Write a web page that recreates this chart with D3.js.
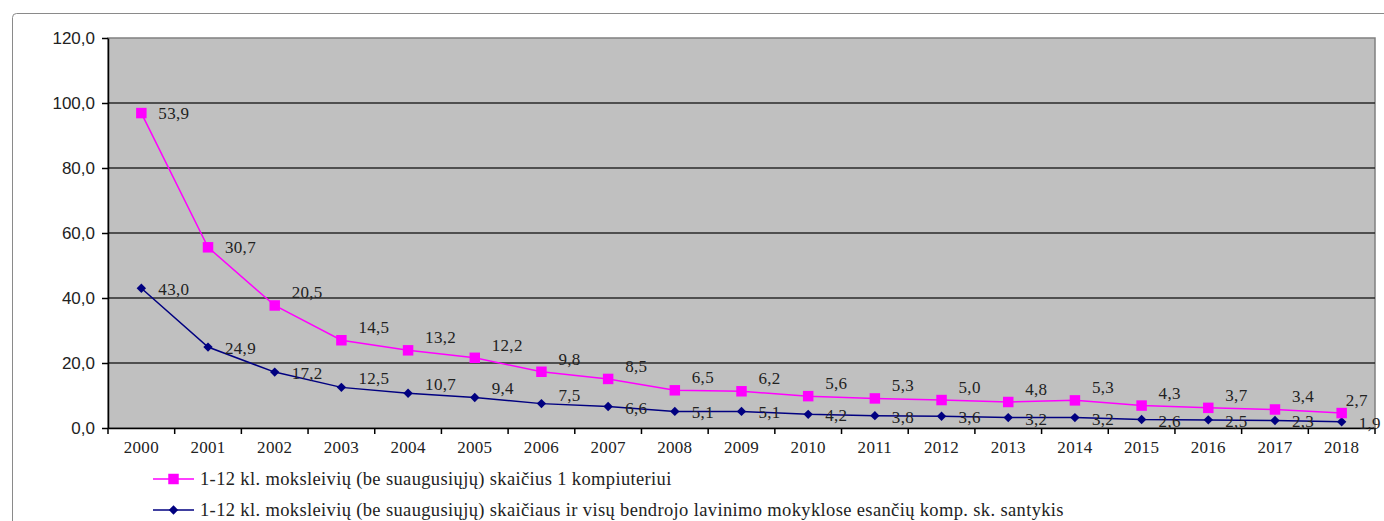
<!DOCTYPE html>
<html>
<head>
<meta charset="utf-8">
<script src="https://cdn.jsdelivr.net/npm/d3@7"></script>
<style>
html, body { margin: 0; padding: 0; background: #fff; overflow: hidden; }
</style>
</head>
<body>
<script>
// data
const years = [2000, 2001, 2002, 2003, 2004, 2005, 2006, 2007, 2008, 2009,
               2010, 2011, 2012, 2013, 2014, 2015, 2016, 2017, 2018];
const perComputer = [53.9, 30.7, 20.5, 14.5, 13.2, 12.2, 9.8, 8.5, 6.5, 6.2,
                     5.6, 5.3, 5.0, 4.8, 5.3, 4.3, 3.7, 3.4, 2.7];
const studentRatio = [43.0, 24.9, 17.2, 12.5, 10.7, 9.4, 7.5, 6.6, 5.1, 5.1,
                      4.2, 3.8, 3.6, 3.2, 3.2, 2.6, 2.5, 2.3, 1.9];
const yTicks = [0, 20, 40, 60, 80, 100, 120];
const legendLabels = [
    "1-12 kl. moksleivių (be suaugusiųjų) skaičius 1 kompiuteriui",
    "1-12 kl. moksleivių (be suaugusiųjų) skaičiaus ir visų bendrojo lavinimo mokyklose esančių komp. sk. santykis"
];

const width = 1384, height = 521;
const pink = "#ff00ff", navy = "#000080";
const serif = "'Liberation Serif', 'Times New Roman', serif";
const sans = "'Liberation Sans', Arial, sans-serif";
const fmt = v => d3.format(".1f")(v).replace(".", ",");

const svg = d3.select("body")
    .append("svg")
    .attr("width", width)
    .attr("height", height);

// chart frame (runs off the picture at right and bottom)
svg.append("rect")
    .attr("x", 12.5).attr("y", 13.5)
    .attr("width", 1420).attr("height", 600)
    .attr("rx", 4)
    .attr("fill", "none")
    .attr("stroke", "#8a8a8a");

const plot = {left: 108, right: 1375, top: 38, bottom: 428};

const x = d3.scaleBand().domain(years).range([plot.left, plot.right]);
const y = d3.scaleLinear().domain([0, 120]).range([plot.bottom, plot.top]);
const cx = yr => x(yr) + x.bandwidth() / 2;

// stacked line chart: navy series at the bottom, pink stacked on top
const rows = years.map((yr, i) => ({year: yr, ratio: studentRatio[i], perPc: perComputer[i]}));
const stacked = d3.stack().keys(["ratio", "perPc"])(rows);

// plot area
svg.append("rect")
    .attr("x", plot.left).attr("y", plot.top)
    .attr("width", plot.right - plot.left)
    .attr("height", plot.bottom - plot.top)
    .attr("fill", "#c0c0c0")
    .attr("stroke", "#808080")
    .attr("stroke-width", 1.5);

// gridlines
svg.append("g")
    .selectAll("line")
    .data(yTicks.filter(t => t > 0 && t < 120))
    .join("line")
    .attr("x1", plot.left).attr("x2", plot.right)
    .attr("y1", d => y(d)).attr("y2", d => y(d))
    .attr("stroke", "#2a2a2a")
    .attr("stroke-width", 1.5);

// y axis
const yAxis = svg.append("g")
    .attr("transform", `translate(${plot.left},0)`)
    .call(d3.axisLeft(y).tickValues(yTicks).tickFormat(fmt).tickSize(6).tickSizeOuter(0).tickPadding(7));
yAxis.selectAll("text")
    .style("font", `17px ${sans}`)
    .attr("fill", "#222");
yAxis.selectAll("line, path").attr("stroke", "#000").attr("stroke-width", 1.5);

// x axis: labels centred in bands, ticks on band edges
const xAxis = svg.append("g")
    .attr("transform", `translate(0,${plot.bottom})`)
    .call(d3.axisBottom(x).tickSize(0).tickPadding(13));
xAxis.selectAll("text")
    .style("font", `17px ${serif}`)
    .style("letter-spacing", "0.3px")
    .attr("fill", "#222");
xAxis.select("path").attr("stroke", "#000").attr("stroke-width", 1.5);
xAxis.selectAll(".edge")
    .data(years.map(yr => x(yr)).concat([plot.right]))
    .join("line")
    .attr("class", "edge")
    .attr("x1", d => d).attr("x2", d => d)
    .attr("y1", 0).attr("y2", 6)
    .attr("stroke", "#000")
    .attr("stroke-width", 1.5);

// lines
const line = d3.line()
    .x(d => cx(d.data.year))
    .y(d => y(d[1]));

const colors = [navy, pink];
svg.selectAll(".series")
    .data(stacked)
    .join("path")
    .attr("class", "series")
    .attr("d", line)
    .attr("fill", "none")
    .attr("stroke", (d, i) => colors[i])
    .attr("stroke-width", 1.5);

// markers
const diamond = d3.symbol(d3.symbolSquare, 44);
const square = d3.symbol(d3.symbolSquare, 110);

svg.append("g")
    .selectAll("path")
    .data(stacked[0])
    .join("path")
    .attr("d", diamond)
    .attr("transform", d => `translate(${cx(d.data.year)},${y(d[1])}) rotate(45)`)
    .attr("fill", navy);

svg.append("g")
    .selectAll("path")
    .data(stacked[1])
    .join("path")
    .attr("d", square)
    .attr("transform", d => `translate(${cx(d.data.year)},${y(d[1])})`)
    .attr("fill", pink);

// data labels (the values themselves, not the stacked totals)
svg.append("g")
    .selectAll("text")
    .data(stacked[0])
    .join("text")
    .attr("x", d => cx(d.data.year) + 17)
    .attr("y", (d, i) => y(d[1]) + (i >= 3 && i <= 6 ? -9 : 1))
    .attr("dy", "0.35em")
    .style("font", `17px ${serif}`)
    .style("letter-spacing", "0.3px")
    .attr("fill", "#222")
    .text(d => fmt(d.data.ratio));

svg.append("g")
    .selectAll("text")
    .data(stacked[1])
    .join("text")
    .attr("x", (d, i) => cx(d.data.year) + (i === years.length - 1 ? 4 : 17))
    .attr("y", (d, i) => y(d[1]) + (i < 2 ? 0 : -13))
    .attr("dy", "0.35em")
    .style("font", `17px ${serif}`)
    .style("letter-spacing", "0.3px")
    .attr("fill", "#222")
    .text(d => fmt(d.data.perPc));

// legend
const legend = svg.append("g")
    .selectAll("g")
    .data(legendLabels)
    .join("g")
    .attr("transform", (d, i) => `translate(153,${479 + i * 31})`);

legend.append("line")
    .attr("x1", 0).attr("x2", 41)
    .attr("stroke", (d, i) => i === 0 ? pink : navy)
    .attr("stroke-width", 1.5);

legend.append("path")
    .attr("d", (d, i) => i === 0 ? square() : diamond())
    .attr("transform", (d, i) => `translate(20.5,0)${i === 0 ? "" : " rotate(45)"}`)
    .attr("fill", (d, i) => i === 0 ? pink : navy);

legend.append("text")
    .attr("x", 47)
    .attr("dy", "0.35em")
    .style("font", `18.5px ${serif}`)
    .style("letter-spacing", "0.36px")
    .attr("fill", "#222")
    .text(d => d);
</script>
</body>
</html>
